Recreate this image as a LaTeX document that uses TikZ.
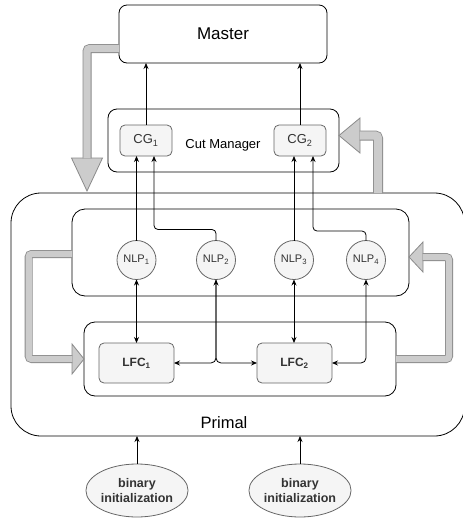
\documentclass[tikz,border=0pt]{standalone}
\usepackage{fontspec}
\setmainfont{Liberation Sans}
\usetikzlibrary{arrows.meta,shapes.geometric}
\definecolor{boxfill}{HTML}{F5F5F5}
\definecolor{boxline}{HTML}{666666}
\definecolor{bandfill}{HTML}{CCCCCC}
\definecolor{bandline}{HTML}{8A8A8A}
\definecolor{txtgray}{HTML}{333333}
\tikzset{
  panel/.style={draw, rounded corners=#1, line width=0.8pt, inner sep=0pt, outer sep=0pt},
  tile/.style={draw=boxline, fill=boxfill, rounded corners=5pt, line width=0.8pt, inner sep=0pt, outer sep=0pt, text=txtgray},
  bubble/.style={circle, draw=boxline, fill=boxfill, minimum size=39pt, inner sep=0pt, outer sep=0pt, line width=0.8pt, text=txtgray, font=\fontsize{11}{13}\selectfont},
  seed/.style={ellipse, draw=boxline, fill=boxfill, minimum width=93pt, minimum height=53pt, inner sep=0pt, outer sep=0pt, line width=0.8pt, align=center, text=txtgray, font=\bfseries\fontsize{12.5}{15}\selectfont},
  link/.style={-{Stealth[length=6pt,width=5pt]}, line width=0.8pt},
  duplex/.style={{Stealth[length=6pt,width=5pt]}-{Stealth[length=6pt,width=5pt]}, line width=0.8pt},
  band/.style={draw=bandline, double=bandfill, double distance=#1, line width=0.8pt, rounded corners=3pt},
  bandhead/.style={fill=bandfill, draw=bandline, line width=0.8pt, line join=miter}
}
\begin{document}
\begin{tikzpicture}[x=1pt,y=-1pt]
\useasboundingbox (0,0) rectangle (463,520);
% boxes
\node[panel=8pt, minimum width=208pt, minimum height=58pt, font=\fontsize{17}{20}\selectfont] (master) at (223,34) {Master};
\node[panel=9pt, minimum width=231pt, minimum height=63pt] (cutmgr) at (223.5,140.5) {};
\node[font=\fontsize{13}{15}\selectfont] (cutlabel) at (223,145) {Cut Manager};
\node[tile, minimum width=52pt, minimum height=31pt, font=\fontsize{13}{15}\selectfont] (cg1) at (146,140.5) {CG\textsubscript{1}};
\node[tile, minimum width=52pt, minimum height=31pt, font=\fontsize{13}{15}\selectfont] (cg2) at (300,140.5) {CG\textsubscript{2}};
\node[panel=30pt, minimum width=453.5pt, minimum height=243pt] (primal) at (237.75,314.5) {};
\node[font=\fontsize{16.5}{19}\selectfont] (primallabel) at (224,423) {Primal};
\node[panel=13pt, minimum width=337pt, minimum height=87pt] (nlpbox) at (240.5,252.5) {};
\node[panel=11pt, minimum width=312pt, minimum height=74pt] (lfcbox) at (240,359) {};
\node[bubble] (nlp1) at (136.5,260) {NLP\textsubscript{1}};
\node[bubble] (nlp2) at (216,260) {NLP\textsubscript{2}};
\node[bubble] (nlp3) at (294,260) {NLP\textsubscript{3}};
\node[bubble] (nlp4) at (366,260) {NLP\textsubscript{4}};
\node[tile, minimum width=75pt, minimum height=40pt, font=\bfseries\fontsize{12}{14}\selectfont] (lfc1) at (136.5,363) {LFC\textsubscript{1}};
\node[tile, minimum width=75pt, minimum height=40pt, font=\bfseries\fontsize{12}{14}\selectfont] (lfc2) at (294.5,363) {LFC\textsubscript{2}};
\node[seed] (bin1) at (137,490.5) {binary\\initialization};
\node[seed] (bin2) at (300,490.5) {binary\\initialization};
% grey flow arrows
\filldraw[bandhead] (71.5,158) -- (87,191) -- (102.5,158) -- cycle;
\draw[band=7.4pt] (master.west |- 0,48.5) -- (87,48.5) -- (87,158.4);
\filldraw[bandhead] (360,118) -- (cutmgr.east |- 0,135.5) -- (360,153) -- cycle;
\draw[band=8.4pt] (378,0 |- primal.north) -- (378,135.5) -- (359.6,135.5);
\filldraw[bandhead] (72,344) -- (lfcbox.west |- 0,359) -- (72,374) -- cycle;
\draw[band=6.4pt] (nlpbox.west |- 0,254) -- (28.7,254) -- (28.7,359) -- (72.4,359);
\filldraw[bandhead] (423,242) -- (nlpbox.east |- 0,257) -- (423,272) -- cycle;
\draw[band=6.4pt] (lfcbox.east |- 0,359) -- (449,359) -- (449,257) -- (422.6,257);
% cuts to master
\draw[link] (cg1.north) -- (cg1.north |- master.south);
\draw[link] (cg2.north) -- (cg2.north |- master.south);
\draw[link] (nlp1.north) -- (nlp1.north |- cg1.south);
\draw[link, rounded corners=4pt] (nlp2.north) |- (154,229.5) -- (154,0 |- cg1.south);
\draw[link] (nlp3.north) -- (nlp3.north |- cg2.south);
\draw[link, rounded corners=4pt] (nlp4.north) |- (313,231) -- (313,0 |- cg2.south);
% nlp to lfc
\draw[duplex] (nlp1.south) -- (lfc1.north);
\draw[duplex] (nlp3.south) -- (nlp3.south |- lfc2.north);
\draw[duplex, rounded corners=5pt] (nlp2.south) |- (lfc1.east);
\draw[link, rounded corners=5pt] (nlp2.south) |- (lfc2.west);
\draw[duplex, rounded corners=5pt] (nlp4.south) |- (lfc2.east);
% initialization
\draw[link] (bin1.north) -- (bin1.north |- primal.south);
\draw[link] (bin2.north) -- (bin2.north |- primal.south);
\end{tikzpicture}
\end{document}
